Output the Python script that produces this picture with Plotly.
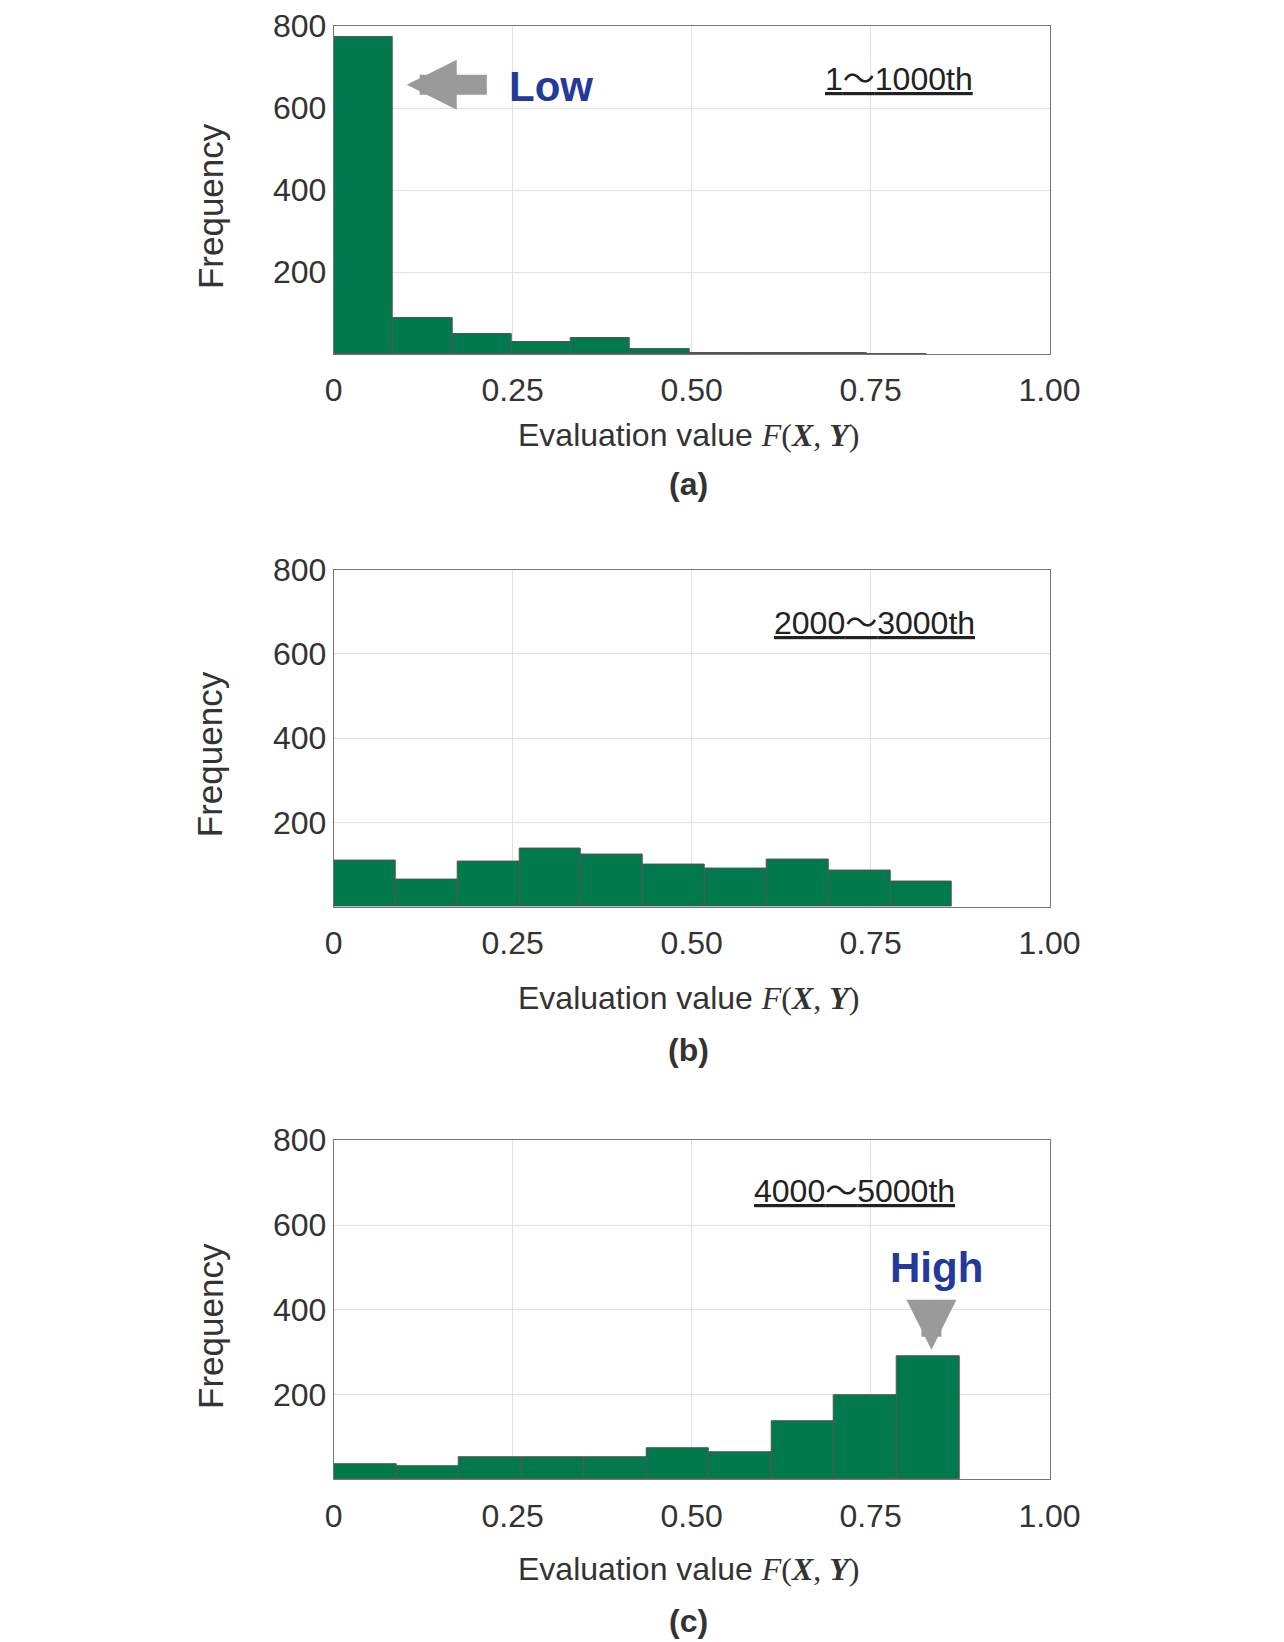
import plotly.graph_objects as go

# bin widths per panel (10 bins each)
width_a, width_b, width_c = 0.0828, 0.0864, 0.0874
freq_a = [773, 89, 49, 30, 40, 12, 3, 2, 2, 1]
freq_b = [109, 64, 106, 138, 123, 99, 91, 111, 86, 59]
freq_c = [35, 32, 52, 52, 52, 74, 64, 138, 198, 291]
range_labels = ["1<span style='font-family:Noto Sans CJK JP'>～</span>1000th",
                "2000<span style='font-family:Noto Sans CJK JP'>～</span>3000th",
                "4000<span style='font-family:Noto Sans CJK JP'>～</span>5000th"]
panel_tags = ["(a)", "(b)", "(c)"]
x_ticks = [0, 0.25, 0.5, 0.75, 1.0]
x_ticktext = ["0", "0.25", "0.50", "0.75", "1.00"]
y_ticks = [200, 400, 600, 800]

GREEN = "#007a4d"
BLUE = "#233a9a"
GRAY = "#9a9a9a"
FONT = "Liberation Sans, Arial"
SERIF = "Liberation Serif"

domains = [(0.798, 1.0), (0.4577, 0.6653), (0.105, 0.3139)]
label_pos = [(0.79, 678), (0.756, 680), (0.727, 687)]
title_off = [(0.050, 0.080), (0.056, 0.088), (0.055, 0.087)]
xdom = (0.2546, 0.830)
xlabel = ("Evaluation value <span style='font-family:%s'><i>F</i>(<b><i>X</i></b>, <b><i>Y</i></b>)</span>"
          % SERIF)

fig = go.Figure()
widths = [width_a, width_b, width_c]
for i, freq in enumerate([freq_a, freq_b, freq_c]):
    w = widths[i]
    xs = [w * (k + 0.5) for k in range(len(freq))]
    ax = "" if i == 0 else str(i + 1)
    fig.add_trace(go.Bar(x=xs, y=freq, width=w, marker=dict(color=GREEN, line=dict(color="#555", width=1)),
                         xaxis="x" + ax, yaxis="y" + ax, showlegend=False))
    fig.update_layout(**{
        "xaxis" + ax: dict(domain=xdom, range=[0, 1], anchor="y" + ax, tickvals=x_ticks, ticktext=x_ticktext,
                           showgrid=True, gridcolor="#e2e2e2", showline=True, linecolor="#777", mirror=True,
                           zeroline=False, ticks="", ticklabelstandoff=8,
                           tickfont=dict(size=32, color="#333", family=FONT)),
        "yaxis" + ax: dict(domain=domains[i], range=[0, 800], anchor="x" + ax, tickvals=y_ticks,
                           showgrid=True, gridcolor="#e2e2e2", showline=True, linecolor="#777", mirror="allticks",
                           zeroline=False, ticks="", tickfont=dict(size=32, color="#333", family=FONT)),
    })
    y0, y1 = domains[i]
    lx, ly = label_pos[i]
    fig.add_annotation(x=lx, y=ly, xref="x" + ax, yref="y" + ax, text="<u>" + range_labels[i] + "</u>",
                       showarrow=False, font=dict(size=32, color="#222", family=FONT))
    fig.add_annotation(x=0.155, y=(y0 + y1) / 2 - 0.01, xref="paper", yref="paper", text="Frequency",
                       textangle=-90, xanchor="center", yanchor="middle",
                       showarrow=False, font=dict(size=35, color="#333", family=FONT))
    fig.add_annotation(x=0.540, y=y0 - title_off[i][0], xref="paper", yref="paper", text=xlabel,
                       xanchor="center", yanchor="middle",
                       showarrow=False, font=dict(size=32, color="#333", family=FONT))
    fig.add_annotation(x=0.540, y=y0 - title_off[i][1], xref="paper", yref="paper",
                       text="<b>" + panel_tags[i] + "</b>", xanchor="center", yanchor="middle",
                       showarrow=False, font=dict(size=32, color="#333", family=FONT))

# Low / High markers
fig.add_annotation(x=0.102, y=657, ax=0.216, ay=657, xref="x", yref="y", axref="x", ayref="y",
                   showarrow=True, arrowhead=2, arrowsize=0.5, arrowwidth=20, arrowcolor=GRAY, text="")
fig.add_annotation(x=0.304, y=652, xref="x", yref="y", text="<b>Low</b>", showarrow=False,
                   font=dict(size=42, color=BLUE, family=FONT))
fig.add_annotation(x=0.835, y=306, ax=0.835, ay=420, xref="x3", yref="y3", axref="x3", ayref="y3",
                   showarrow=True, arrowhead=2, arrowsize=0.5, arrowwidth=20, arrowcolor=GRAY, text="")
fig.add_annotation(x=0.842, y=500, xref="x3", yref="y3", text="<b>High</b>", showarrow=False,
                   font=dict(size=42, color=BLUE, family=FONT))

fig.update_layout(width=1284, height=1642, margin=dict(l=0, r=0, t=0, b=0),
                  paper_bgcolor="white", plot_bgcolor="white", bargap=0)
fig.write_html("out.html")
